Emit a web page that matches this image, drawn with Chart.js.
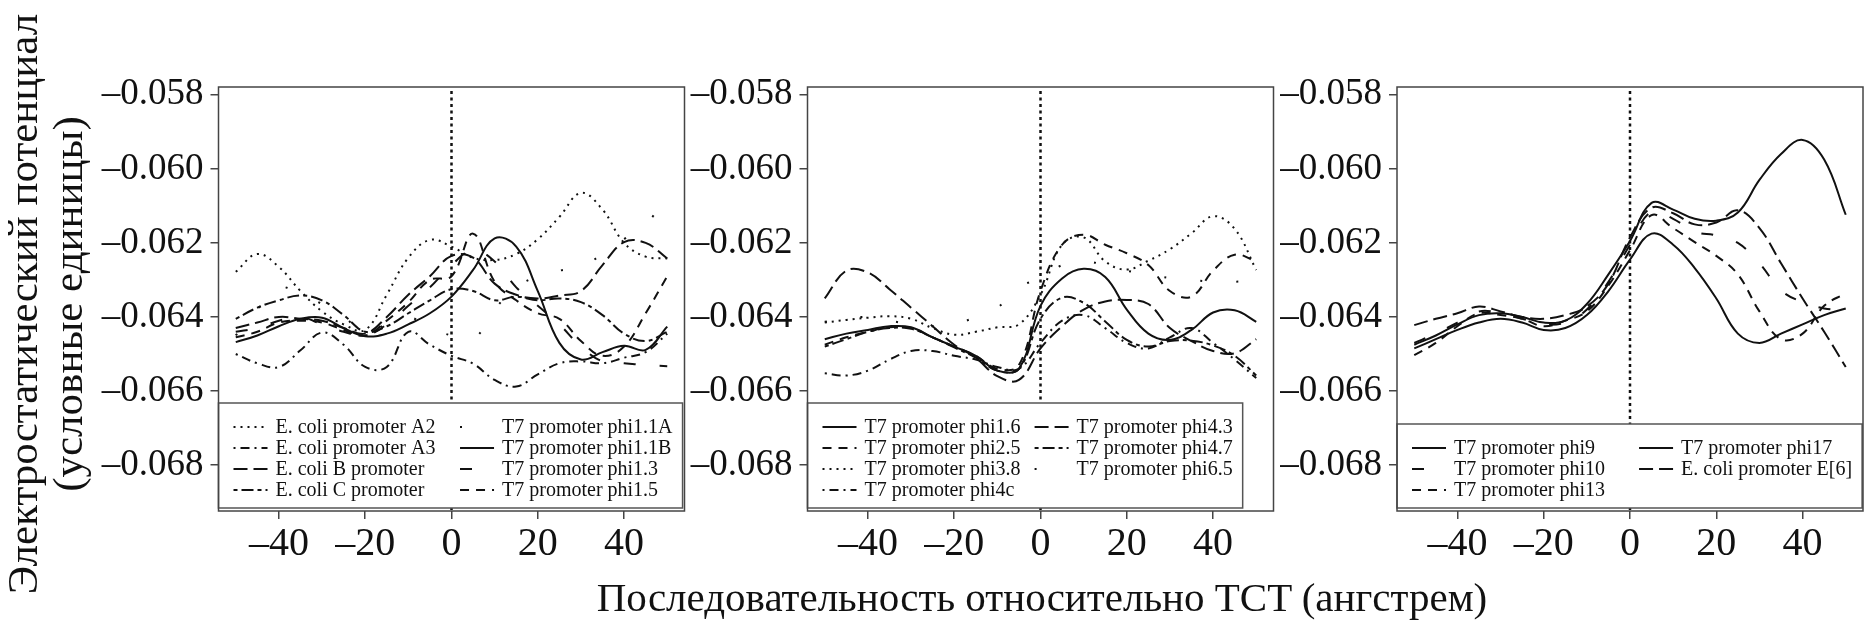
<!DOCTYPE html>
<html>
<head>
<meta charset="utf-8">
<script src="https://cdn.jsdelivr.net/npm/chart.js@4.4.1/dist/chart.umd.min.js"></script>
<style>
    html, body { margin: 0; padding: 0; background: #fff; }
    #wrap { position: relative; width: 1871px; height: 627px; overflow: hidden; background: #fff; }
    #wrap canvas { position: absolute; left: 0; top: 0; }
    .title {
        position: absolute;
        font-family: "Liberation Serif", "Times New Roman", serif;
        color: #111;
        white-space: nowrap;
    }
    .ytitle { font-size: 43px; line-height: 43px; transform: translate(-50%, -50%) rotate(-90deg); }
    #xTitle { font-size: 41px; line-height: 41px; transform: translateX(-50%); }
</style>
</head>
<body>
<div id="wrap">
    <canvas id="panel1" width="1871" height="627"></canvas>
    <canvas id="panel2" width="1871" height="627"></canvas>
    <canvas id="panel3" width="1871" height="627"></canvas>
    <div class="title ytitle" style="left:22px; top:304px;">Электростатический потенциал</div>
    <div class="title ytitle" style="left:67px; top:304px;">(условные единицы)</div>
    <div class="title" id="xTitle" style="left:1042px; top:577px;">Последовательность относительно TCT (ангстрем)</div>
</div>

<script>
// Electrostatic potential profiles around the TSS, three panels
// values below are in units of 0.001 (converted when datasets are built)

const positions = [-50, -45, -40, -35, -30, -25, -20, -15, -10, -5, 0, 5, 10, 15, 20, 25, 30, 35, 40, 45, 50];
const xTickValues = [-40, -20, 0, 20, 40];
const yTickValues = [-0.068, -0.066, -0.064, -0.062, -0.060, -0.058];

// panel 1
const panel1Names = ['E. coli promoter A2', 'E. coli promoter A3', 'E. coli B promoter', 'E. coli C promoter',
    'T7 promoter phi1.1A', 'T7 promoter phi1.1B', 'T7 promoter phi1.3', 'T7 promoter phi1.5'];
const ecoliA2 = [-62.78, -62.30, -62.65, -63.30, -63.85, -64.20, -64.35, -63.40, -62.40, -61.92, -62.10, -62.40, -62.46, -62.30, -61.90, -61.30, -60.65, -61.10, -62.00, -62.37, -62.42];
const ecoliA3 = [-65.00, -65.25, -65.35, -64.90, -64.42, -64.75, -65.35, -65.35, -64.40, -64.75, -65.05, -65.26, -65.70, -65.88, -65.55, -65.25, -65.20, -65.25, -65.10, -64.95, -64.45];
const ecoliB = [-64.30, -64.15, -64.00, -64.05, -64.10, -64.30, -64.45, -64.00, -63.40, -62.90, -62.35, -62.40, -63.10, -63.40, -63.50, -63.42, -63.30, -62.60, -61.98, -62.00, -62.42];
const ecoliC = [-64.05, -63.75, -63.55, -63.42, -63.55, -63.95, -64.40, -64.25, -63.90, -63.55, -63.25, -63.30, -63.55, -63.45, -63.55, -63.50, -63.60, -63.95, -64.45, -64.65, -64.40];
const phi1_1A = [-64.50, -63.80, -63.20, -63.40, -63.65, -64.00, -64.40, -64.20, -64.00, -64.30, -64.50, -64.60, -63.80, -63.20, -62.90, -62.75, -62.65, -62.30, -61.90, -61.50, -60.75];
const phi1_1B = [-64.68, -64.50, -64.25, -64.05, -64.02, -64.30, -64.52, -64.45, -64.20, -63.90, -63.45, -62.73, -61.88, -62.10, -63.30, -64.70, -65.15, -64.95, -64.78, -64.89, -64.26];
const phi1_3 = [-64.40, -64.30, -64.10, -64.00, -64.20, -64.40, -64.50, -64.20, -63.70, -63.20, -62.60, -62.20, -62.50, -63.20, -63.70, -64.20, -64.80, -65.20, -65.25, -65.30, -65.33];
const phi1_5 = [-64.55, -64.40, -64.15, -64.10, -64.15, -64.35, -64.50, -64.10, -63.60, -63.00, -62.90, -61.75, -63.05, -63.55, -63.90, -64.05, -64.65, -65.05, -64.80, -63.90, -62.90];
const panel1Styles = ['dotted', 'dotdash', 'longdash', 'twodash', 'sparseDot', 'solid', 'sparseDash', 'dashed'];

// panel 2
const panel2Names = ['T7 promoter phi1.6', 'T7 promoter phi2.5', 'T7 promoter phi3.8', 'T7 promoter phi4c',
    'T7 promoter phi4.3', 'T7 promoter phi4.7', 'T7 promoter phi6.5'];
const phi1_6 = [-64.60, -64.45, -64.35, -64.25, -64.28, -64.55, -64.80, -65.05, -65.45, -65.40, -63.70, -62.96, -62.70, -62.92, -63.80, -64.45, -64.62, -64.35, -63.88, -63.82, -64.13];
const phi2_5 = [-64.75, -64.55, -64.40, -64.28, -64.30, -64.55, -64.80, -65.05, -65.40, -65.30, -63.30, -62.05, -61.78, -62.05, -62.28, -62.60, -63.30, -63.45, -62.75, -62.32, -62.50];
const phi3_8 = [-64.15, -64.08, -64.02, -63.98, -64.05, -64.30, -64.48, -64.40, -64.28, -64.20, -63.40, -62.05, -61.85, -62.50, -62.72, -62.48, -62.17, -61.74, -61.28, -61.62, -62.73];
const phi4c = [-65.52, -65.58, -65.45, -65.15, -64.92, -64.92, -65.05, -65.15, -65.35, -65.40, -64.70, -64.10, -63.95, -64.30, -64.70, -64.85, -64.55, -64.30, -64.70, -65.15, -65.65];
const phi4_3 = [-63.50, -62.75, -62.80, -63.25, -63.75, -64.25, -64.75, -65.10, -65.60, -65.70, -64.85, -64.25, -63.80, -63.58, -63.54, -63.65, -64.30, -64.65, -64.92, -64.98, -64.60];
const phi4_7 = [-64.80, -64.60, -64.40, -64.30, -64.32, -64.55, -64.82, -65.10, -65.45, -65.40, -64.05, -63.48, -63.62, -64.12, -64.62, -64.80, -64.65, -64.64, -64.77, -65.05, -65.58];
const phi6_5 = [-64.13, -64.05, -64.00, -64.10, -64.20, -64.25, -64.20, -64.00, -63.75, -63.20, -62.95, -62.60, -62.50, -62.60, -62.75, -62.85, -62.95, -63.00, -63.05, -63.05, -63.00];
const panel2Styles = ['solid', 'dashed', 'dotted', 'dotdash', 'longdash', 'twodash', 'sparseDot'];

// panel 3
const panel3Names = ['T7 promoter phi9', 'T7 promoter phi10', 'T7 promoter phi13', 'T7 promoter phi17', 'E. coli promoter E[6]'];
const phi9 = [-64.85, -64.60, -64.35, -64.15, -64.05, -64.15, -64.35, -64.30, -63.95, -63.30, -62.45, -61.75, -62.05, -62.68, -63.50, -64.45, -64.70, -64.45, -64.20, -63.95, -63.77];
const phi10 = [-64.70, -64.45, -64.15, -63.85, -63.90, -64.05, -64.20, -64.15, -63.80, -63.05, -62.05, -61.15, -61.35, -61.70, -61.80, -62.00, -62.55, -63.28, -63.60, -63.77, -63.82];
const phi13 = [-65.03, -64.70, -64.25, -63.90, -63.95, -64.05, -64.25, -64.10, -63.85, -63.15, -62.20, -61.25, -61.60, -61.98, -62.35, -62.85, -63.85, -64.60, -64.45, -63.70, -63.36];
const phi17 = [-64.75, -64.50, -64.20, -63.95, -63.90, -64.00, -64.15, -64.10, -63.65, -62.85, -61.95, -60.92, -61.10, -61.35, -61.40, -61.18, -60.30, -59.60, -59.22, -59.75, -61.24];
const ecoliE6 = [-64.22, -64.05, -63.90, -63.72, -63.85, -64.00, -64.05, -63.95, -63.72, -63.10, -61.85, -61.05, -61.20, -61.50, -61.45, -61.12, -61.60, -62.55, -63.50, -64.40, -65.35];
const panel3Styles = ['solid', 'sparseDash', 'dashed', 'solid', 'longdash'];

// R-like line types, in px for a 2px line
const DASHES = {
    solid: [],
    dashed: [9, 7],
    dotted: [2, 5],
    dotdash: [2, 5, 9, 5],
    longdash: [14, 6],
    twodash: [4, 4, 12, 4],
    sparseDot: [2, 34],
    sparseDash: [12, 24]
};

const CANVAS_W = 1871;
const CANVAS_H = 627;
const PLOT_TOP = 87;
const PLOT_BOTTOM = 511;
const PLOT_W = 466;
const Y_AXIS_W = 130;
const X_AXIS_H = 80;
const SERIF = '"Liberation Serif", "Times New Roman", serif';

const minusSign = v => (v < 0 ? '\u2013' : '');

// zero line, legend box and the frame around the plot
const panelDecor = {
    id: 'panelDecor',
    beforeDatasetsDraw(chart) {
        const { ctx, chartArea: a, scales } = chart;
        const x0 = scales.x.getPixelForValue(0);
        ctx.save();
        ctx.strokeStyle = '#111';
        ctx.lineWidth = 2.5;
        ctx.setLineDash([3, 3.5]);
        ctx.beginPath();
        ctx.moveTo(x0, a.top + 4);
        ctx.lineTo(x0, a.bottom);
        ctx.stroke();
        ctx.restore();
    },
    afterDatasetsDraw(chart, args, opts) {
        const { ctx, chartArea: a } = chart;
        const sets = chart.data.datasets;
        const rows = opts.rows;

        ctx.save();
        ctx.font = '20px ' + SERIF;
        const textW = Math.max(...sets.map(d => ctx.measureText(d.label).width));
        const sampleX = a.left + 15;
        const sampleLen = 34;
        const textGap = 42;
        const colStep = textGap + textW + 14;
        const rowY = i => a.bottom - 20 - (rows - 1 - i) * 21;

        const boxTop = rowY(0) - 25;
        const boxRight = sampleX + colStep + textGap + textW + 10;
        ctx.fillStyle = '#fff';
        ctx.fillRect(a.left, boxTop, boxRight - a.left, a.bottom - 3 - boxTop);
        ctx.strokeStyle = '#555';
        ctx.lineWidth = 1.5;
        ctx.setLineDash([]);
        ctx.strokeRect(a.left, boxTop, boxRight - a.left, a.bottom - 3 - boxTop);

        ctx.textBaseline = 'middle';
        ctx.textAlign = 'left';
        sets.forEach((d, i) => {
            const col = Math.floor(i / rows);
            const y = rowY(i % rows);
            const sx = sampleX + col * colStep;
            ctx.strokeStyle = d.borderColor;
            ctx.lineWidth = d.borderWidth;
            ctx.setLineDash(d.borderDash);
            ctx.beginPath();
            ctx.moveTo(sx, y - 1);
            ctx.lineTo(sx + sampleLen, y - 1);
            ctx.stroke();
            ctx.fillStyle = '#111';
            ctx.fillText(d.label, sx + textGap, y);
        });

        // frame
        ctx.setLineDash([]);
        ctx.strokeStyle = '#444';
        ctx.lineWidth = 1.5;
        ctx.strokeRect(a.left, a.top, a.width, a.height);
        ctx.restore();
    }
};

function buildPanel(canvasId, plotLeft, names, seriesList, styleNames, legendRows) {
    const ctx = document.getElementById(canvasId);
    if (!ctx) return null;

    const datasets = names.map((name, i) => ({
        label: name,
        data: seriesList[i].map((v, j) => ({ x: positions[j], y: v / 1000 })),
        borderColor: '#111',
        borderWidth: 2,
        borderDash: DASHES[styleNames[i]],
        borderCapStyle: 'butt',
        pointRadius: 0,
        tension: 0.4,
        fill: false
    }));

    return new Chart(ctx, {
        type: 'line',
        data: { datasets },
        plugins: [panelDecor],
        options: {
            responsive: false,
            devicePixelRatio: 1,
            animation: false,
            layout: {
                padding: {
                    left: plotLeft - Y_AXIS_W,
                    right: CANVAS_W - plotLeft - PLOT_W,
                    top: PLOT_TOP,
                    bottom: CANVAS_H - PLOT_BOTTOM - X_AXIS_H
                }
            },
            plugins: {
                legend: { display: false },
                tooltip: { enabled: false },
                panelDecor: { rows: legendRows }
            },
            scales: {
                x: {
                    type: 'linear',
                    min: -54,
                    max: 54,
                    afterBuildTicks: axis => { axis.ticks = xTickValues.map(v => ({ value: v })); },
                    afterFit: axis => { axis.height = X_AXIS_H; },
                    ticks: {
                        autoSkip: false,
                        maxRotation: 0,
                        padding: 1,
                        color: '#111',
                        font: { family: SERIF, size: 40 },
                        callback: v => minusSign(v) + Math.abs(v)
                    },
                    grid: { drawOnChartArea: false, drawTicks: true, tickLength: 8, color: '#444', lineWidth: 1.5 },
                    border: { display: false }
                },
                y: {
                    type: 'linear',
                    min: -0.06924,
                    max: -0.05779,
                    afterBuildTicks: axis => { axis.ticks = yTickValues.map(v => ({ value: v })); },
                    afterFit: axis => { axis.width = Y_AXIS_W; },
                    ticks: {
                        autoSkip: false,
                        padding: 7,
                        color: '#111',
                        font: { family: SERIF, size: 37 },
                        callback: v => minusSign(v) + Math.abs(v).toFixed(3)
                    },
                    grid: { drawOnChartArea: false, drawTicks: true, tickLength: 8, color: '#444', lineWidth: 1.5 },
                    border: { display: false }
                }
            }
        }
    });
}

const charts = {
    left: buildPanel('panel1', 218.5, panel1Names,
        [ecoliA2, ecoliA3, ecoliB, ecoliC, phi1_1A, phi1_1B, phi1_3, phi1_5], panel1Styles, 4),
    middle: buildPanel('panel2', 807.5, panel2Names,
        [phi1_6, phi2_5, phi3_8, phi4c, phi4_3, phi4_7, phi6_5], panel2Styles, 4),
    right: buildPanel('panel3', 1397, panel3Names,
        [phi9, phi10, phi13, phi17, ecoliE6], panel3Styles, 3)
};
</script>
</body>
</html>
